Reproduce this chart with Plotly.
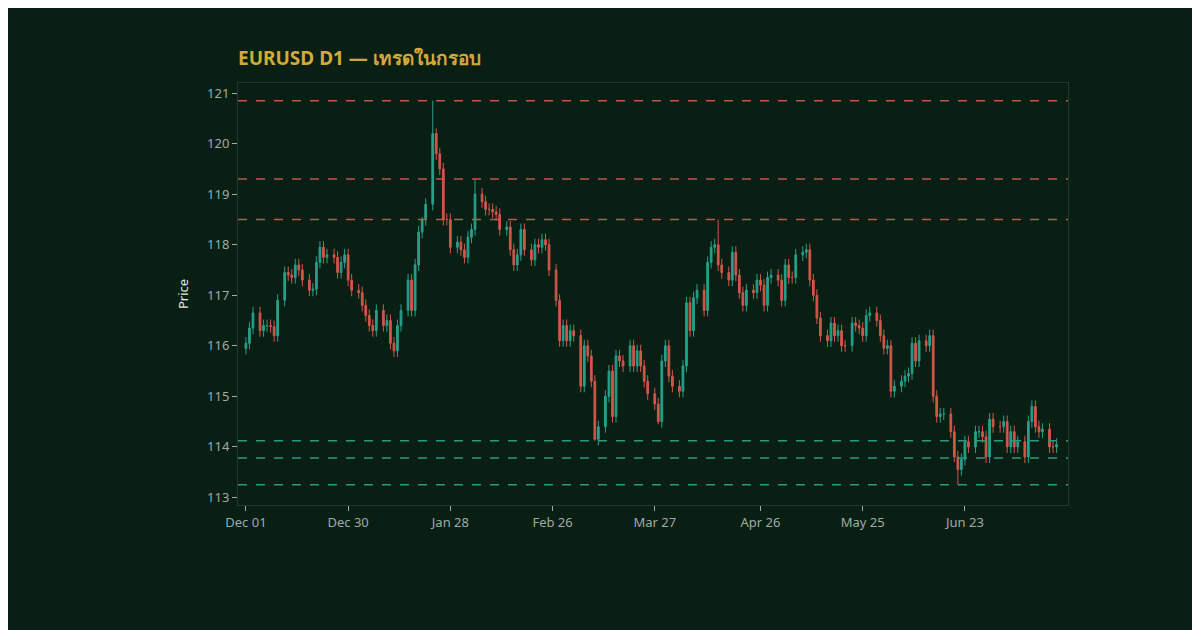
import plotly.graph_objects as go
import pandas as pd

closes = [116.05,116.35,116.65,116.3,116.4,116.4,116.38,116.2,116.9,117.45,
117.4,117.35,117.6,117.5,117.3,117.1,117.12,117.65,117.95,117.75,
117.8,117.75,117.45,117.65,117.8,117.3,117.1,117.05,116.8,116.6,
116.4,116.3,116.7,116.4,116.5,116.05,115.9,116.4,116.7,117.3,
116.7,117.6,118.25,118.5,118.8,120.2,119.8,119.5,118.5,118.5,
117.95,118.05,117.9,117.75,118.15,118.3,119.0,118.85,118.7,118.7,
118.65,118.6,118.3,118.35,117.9,117.6,117.8,118.3,117.9,117.7,
118.0,117.95,118.1,118.0,117.5,116.9,116.1,116.4,116.1,116.3,
116.2,115.2,116.0,115.8,115.3,114.15,114.4,115.0,115.5,114.6,
115.8,115.7,115.6,116.0,115.6,115.9,115.6,115.3,115.05,114.85,
114.5,115.7,116.0,115.4,115.2,115.1,115.6,116.85,116.3,116.95,
117.1,116.7,117.65,117.95,118.0,117.6,117.45,117.3,117.85,117.4,
117.05,116.8,117.1,117.05,117.3,117.2,116.8,117.35,117.4,117.3,
116.9,117.6,117.35,117.35,117.8,117.85,117.9,117.3,117.0,116.55,
116.2,116.1,116.45,116.2,116.3,116.0,116.0,116.45,116.4,116.35,
116.2,116.6,116.65,116.5,116.2,115.95,116.0,115.1,115.2,115.3,
115.4,115.45,116.05,115.7,116.1,116.0,116.2,115.0,114.6,114.65,
114.65,114.3,113.8,113.55,113.75,114.1,114.0,114.3,114.3,114.2,
113.8,114.55,114.4,114.4,114.5,114.0,114.3,114.0,114.1,113.8,
114.5,114.8,114.4,114.3,114.35,114.0,114.0,114.05]
first_open = 115.95
high_over = {45: 120.85, 46: 120.3, 56: 119.3, 115: 118.5, 43: 118.55}
low_over = {85: 114.12, 100: 114.45, 173: 113.25, 172: 113.7}
resistance = [120.85, 119.3, 118.5]
support = [114.12, 113.78, 113.25]
tick_dates = ["2022-12-01","2022-12-30","2023-01-28","2023-02-26","2023-03-27","2023-04-26","2023-05-25","2023-06-23"]
tick_text = ["Dec 01","Dec 30","Jan 28","Feb 26","Mar 27","Apr 26","May 25","Jun 23"]

start = pd.Timestamp("2022-12-01")
n = len(closes)
days = [start + pd.Timedelta(days=round(i * 230 / (n - 1))) for i in range(n)]
opens = [first_open] + closes[:-1]
highs = [high_over.get(i, max(o, c) + 0.12) for i, (o, c) in enumerate(zip(opens, closes))]
lows = [low_over.get(i, min(o, c) - 0.12) for i, (o, c) in enumerate(zip(opens, closes))]

fig = go.Figure(go.Candlestick(x=days, open=opens, high=highs, low=lows, close=closes,
    increasing=dict(line=dict(color="#26a08a", width=1), fillcolor="#26a08a"),
    decreasing=dict(line=dict(color="#d0574a", width=1), fillcolor="#d0574a"),
    whiskerwidth=0, showlegend=False))
for v in resistance:
    fig.add_hline(y=v, line=dict(color="#c0584a", width=1.5, dash="dash"))
for v in support:
    fig.add_hline(y=v, line=dict(color="#2a9a82", width=1.5, dash="dash"))

fig.update_layout(
    width=1200, height=630, paper_bgcolor="#0a1f14", plot_bgcolor="#0a1f14",
    margin=dict(l=230, r=140, t=75, b=133),
    title=dict(text="<b>EURUSD D1 — เทรดในกรอบ</b>", x=230/1200, xanchor="left", y=0.93,
               font=dict(color="#d4a93a", size=19, family="Noto Sans, DejaVu Sans")),
    font=dict(family="Noto Sans, DejaVu Sans", color="#a0aaa5", size=13),
    xaxis=dict(rangeslider=dict(visible=False), range=["2022-11-28 18:00", "2023-07-22 06:00"],
               tickvals=tick_dates, ticktext=tick_text, ticks="outside", ticklen=5,
               tickcolor="#a0aaa5", showgrid=False, showline=True, linecolor="#1d3a2e", mirror=True,
               zeroline=False),
    yaxis=dict(range=[112.85, 121.2], dtick=1, ticks="outside", ticklen=5, tickcolor="#a0aaa5",
               title=dict(text="Price", font=dict(color="#e0e6e2", size=13)),
               showgrid=False, showline=True, linecolor="#1d3a2e", mirror=True,
               zeroline=False),
)
fig.write_html("out.html")
